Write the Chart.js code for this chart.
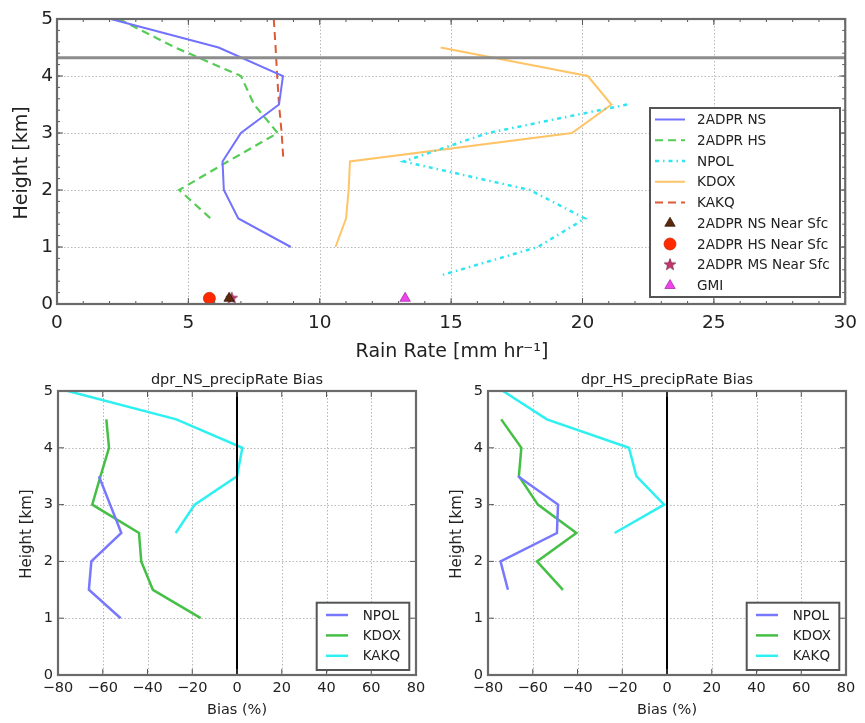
<!DOCTYPE html>
<html>
<head>
<meta charset="utf-8">
<script src="https://cdn.jsdelivr.net/npm/chart.js@4/dist/chart.umd.min.js"></script>
<style>
body { margin: 0; background: #fff; width: 865px; height: 723px; position: relative; overflow: hidden; }
canvas { position: absolute; }
</style>
</head>
<body>
<canvas id="rain" width="865" height="365" style="left:0;top:0"></canvas>
<canvas id="biasNS" width="432" height="363" style="left:0;top:360px"></canvas>
<canvas id="biasHS" width="433" height="363" style="left:432px;top:360px"></canvas>
<script>
// mean rain rate profiles (mm/hr) against height (km)
const nsHeights = [5, 4.5, 4, 3.5, 3, 2.5, 2, 1.5, 1];
const nsRate = [2.05, 6.15, 8.6, 8.45, 7.0, 6.3, 6.35, 6.9, 8.9];
const hsHeights = [5, 4.5, 4, 3.5, 3, 2.5, 2, 1.5];
const hsRate = [2.35, 4.5, 7.0, 7.5, 8.4, 6.5, 4.65, 5.85];
const npolHeights = [3.5, 3, 2.5, 2, 1.5, 1, 0.5];
const npolRate = [21.7, 16.4, 13.2, 18.0, 20.1, 18.3, 14.6];
const kdoxHeights = [4.5, 4, 3.5, 3, 2.5, 2, 1.5, 1];
const kdoxRate = [14.6, 20.2, 21.1, 19.6, 11.15, 11.1, 11.0, 10.6];
const kakqHeights = [5, 4.5, 4, 3.5, 3, 2.5];
const kakqRate = [8.25, 8.32, 8.38, 8.45, 8.55, 8.62];
const freezingLevel = 4.32;

// near surface estimates, drawn just above the ground
const sfcHeight = 0.1;
const nsNearSfc = 6.55;
const hsNearSfc = 5.8;
const msNearSfc = 6.65;
const gmiRate = 13.25;

// DPR NS bias (%) against each ground radar
const nsBiasNpolH = [3.5, 3, 2.5, 2, 1.5, 1];
const nsBiasNpol = [-61.7, -56.7, -51.7, -65.1, -66.2, -52.0];
const nsBiasKdoxH = [4.5, 4, 3.5, 3, 2.5, 2, 1.5, 1];
const nsBiasKdox = [-58.4, -57.2, -61, -64.7, -43.8, -42.8, -37.6, -16.2];
const nsBiasKakqH = [5, 4.5, 4, 3.5, 3, 2.5];
const nsBiasKakq = [-75.6, -27.1, 2.4, 0, -18.9, -27.4];

// DPR HS bias (%)
const hsBiasNpolH = [3.5, 3, 2.5, 2, 1.5];
const hsBiasNpol = [-66.6, -48.7, -49.2, -74.4, -71.1];
const hsBiasKdoxH = [4.5, 4, 3.5, 3, 2.5, 2, 1.5];
const hsBiasKdox = [-74.1, -65.1, -66.2, -57.7, -40.5, -58.1, -46.5];
const hsBiasKakqH = [5, 4.5, 4, 3.5, 3, 2.5];
const hsBiasKakq = [-73.3, -53.7, -17.0, -13.7, -1.3, -23.4];

const rateTicks = [0, 5, 10, 15, 20, 25, 30];
const heightTicks = [0, 1, 2, 3, 4, 5];
const biasTicks = [-80, -60, -40, -20, 0, 20, 40, 60, 80];

const FONT = 'DejaVu Sans';
const INK = '#222';

function pts(h, v) { return v.map((x, i) => ({ x: x, y: h[i] })); }

function lineSet(label, h, v, color, dash, width) {
  return { label: label, data: pts(h, v), borderColor: color, backgroundColor: color,
    borderWidth: width, borderDash: dash, pointRadius: 0, showLine: true, tension: 0, fill: false };
}

function markerSet(label, x, style, color, edge, r) {
  return { label: label, data: [{ x: x, y: sfcHeight }], pointStyle: style, pointRadius: r,
    pointBackgroundColor: color, pointBorderColor: edge, pointBorderWidth: 0.7, showLine: false };
}

// small filled five point star
const starImg = (() => {
  const c = document.createElement('canvas');
  c.width = c.height = 14;
  const g = c.getContext('2d');
  g.beginPath();
  for (let i = 0; i < 10; i++) {
    const r = i % 2 ? 2.6 : 6.2, a = -Math.PI / 2 + i * Math.PI / 5;
    g.lineTo(7 + r * Math.cos(a), 7 + r * Math.sin(a));
  }
  g.closePath();
  g.fillStyle = '#c43470';
  g.fill();
  g.strokeStyle = '#6a1838';
  g.lineWidth = 0.6;
  g.stroke();
  return c;
})();

function drawMarker(ctx, ds, x, y) {
  const st = ds.pointStyle, r = ds.pointRadius;
  if (typeof st === 'object') { ctx.drawImage(st, x - st.width / 2, y - st.height / 2); return; }
  ctx.beginPath();
  if (st === 'circle') ctx.arc(x, y, r, 0, Math.PI * 2);
  else {
    ctx.moveTo(x, y - r);
    ctx.lineTo(x + r * 0.866, y + r * 0.5);
    ctx.lineTo(x - r * 0.866, y + r * 0.5);
    ctx.closePath();
  }
  ctx.fillStyle = ds.pointBackgroundColor;
  ctx.fill();
  ctx.strokeStyle = ds.pointBorderColor;
  ctx.lineWidth = 0.7;
  ctx.stroke();
}

// grid, frame, inward ticks, legend box and axis titles
const axesDecor = {
  id: 'axesDecor',
  beforeDatasetsDraw(chart, args, o) {
    const ctx = chart.ctx, a = chart.chartArea, sx = chart.scales.x, sy = chart.scales.y;
    ctx.save();
    ctx.strokeStyle = '#b8b8b8';
    ctx.lineWidth = 1;
    ctx.setLineDash([1.5, 2]);
    sx.ticks.forEach(t => {
      if (t.value <= sx.min || t.value >= sx.max) return;
      const px = Math.round(sx.getPixelForValue(t.value)) + 0.5;
      ctx.beginPath(); ctx.moveTo(px, a.top); ctx.lineTo(px, a.bottom); ctx.stroke();
    });
    sy.ticks.forEach(t => {
      if (t.value <= sy.min || t.value >= sy.max) return;
      const py = Math.round(sy.getPixelForValue(t.value)) + 0.5;
      ctx.beginPath(); ctx.moveTo(a.left, py); ctx.lineTo(a.right, py); ctx.stroke();
    });
    ctx.restore();
  },
  afterDatasetsDraw(chart, args, o) {
    const ctx = chart.ctx, a = chart.chartArea, sx = chart.scales.x, sy = chart.scales.y;
    ctx.save();
    ctx.strokeStyle = '#555';
    ctx.lineWidth = 1;
    const tickX = (v, len) => {
      const px = sx.getPixelForValue(v);
      ctx.beginPath();
      ctx.moveTo(px, a.bottom); ctx.lineTo(px, a.bottom - len);
      ctx.moveTo(px, a.top); ctx.lineTo(px, a.top + len);
      ctx.stroke();
    };
    const tickY = (v, len) => {
      const py = sy.getPixelForValue(v);
      ctx.beginPath();
      ctx.moveTo(a.left, py); ctx.lineTo(a.left + len, py);
      ctx.moveTo(a.right, py); ctx.lineTo(a.right - len, py);
      ctx.stroke();
    };
    if (o.xMinor) for (let v = sx.min; v <= sx.max + 1e-9; v += o.xMinor) tickX(v, 3);
    if (o.yMinor) for (let v = sy.min; v <= sy.max + 1e-9; v += o.yMinor) tickY(v, 3);
    sx.ticks.forEach(t => tickX(t.value, 6));
    sy.ticks.forEach(t => tickY(t.value, 6));

    // axes frame
    ctx.strokeStyle = '#6a6a6a';
    ctx.lineWidth = 2.2;
    ctx.strokeRect(a.left, a.top, a.right - a.left, a.bottom - a.top);

    // legend
    const L = o.legend;
    ctx.fillStyle = '#fff';
    ctx.fillRect(L.x, L.y, L.w, L.h);
    ctx.strokeStyle = '#555';
    ctx.lineWidth = 2;
    ctx.strokeRect(L.x, L.y, L.w, L.h);
    ctx.font = L.font + 'px "' + FONT + '"';
    ctx.textBaseline = 'middle';
    ctx.textAlign = 'left';
    L.items.forEach((idx, i) => {
      const ds = chart.data.datasets[idx];
      const y = L.row0 + i * L.step;
      if (ds.showLine) {
        ctx.strokeStyle = ds.borderColor;
        ctx.lineWidth = ds.borderWidth;
        ctx.setLineDash(ds.borderDash);
        ctx.beginPath(); ctx.moveTo(L.s0, y); ctx.lineTo(L.s1, y); ctx.stroke();
        ctx.setLineDash([]);
      } else {
        drawMarker(ctx, ds, (L.s0 + L.s1) / 2, y);
      }
      ctx.fillStyle = INK;
      ctx.fillText(ds.label, L.tx, y + 1);
    });

    // titles
    ctx.fillStyle = INK;
    ctx.textAlign = 'center';
    o.titles.forEach(t => {
      ctx.save();
      ctx.font = t.size + 'px "' + FONT + '"';
      ctx.translate(t.x, t.y);
      if (t.rot) ctx.rotate(-Math.PI / 2);
      ctx.fillText(t.text, 0, 0);
      ctx.restore();
    });
    ctx.restore();
  }
};

function axis(min, max, ticks, size, pad, fit, isX) {
  return {
    type: 'linear', min: min, max: max,
    grid: { display: false, drawTicks: false },
    border: { display: false },
    afterBuildTicks: s => { s.ticks = ticks.map(v => ({ value: v })); },
    ticks: {
      autoSkip: false, maxRotation: 0, padding: pad, color: INK,
      font: { family: FONT, size: size },
      callback: v => v < 0 ? '\u2212' + Math.abs(v) : String(v)
    },
    afterFit: s => { if (isX) s.height = fit; else s.width = fit; }
  };
}

function makeChart(id, datasets, scales, padding, decor) {
  return new Chart(document.getElementById(id), {
    type: 'scatter',
    data: { datasets: datasets },
    options: {
      responsive: false,
      animation: false,
      events: [],
      layout: { padding: padding },
      scales: scales,
      plugins: { legend: { display: false }, tooltip: { enabled: false }, axesDecor: decor }
    },
    plugins: [axesDecor]
  });
}

// top panel: rain rate profiles
makeChart('rain', [
  lineSet('', [freezingLevel, freezingLevel], [0, 30], '#8c8c8c', [], 3),
  lineSet('2ADPR NS', nsHeights, nsRate, '#7272ff', [], 2),
  lineSet('2ADPR HS', hsHeights, hsRate, '#55cc55', [8, 5], 2.2),
  lineSet('NPOL', npolHeights, npolRate, '#2fe6f0', [4, 4, 1.5, 4], 2.5),
  lineSet('KDOX', kdoxHeights, kdoxRate, '#ffc467', [], 2),
  lineSet('KAKQ', kakqHeights, kakqRate, '#dd5a36', [8, 5], 2),
  markerSet('2ADPR NS Near Sfc', nsNearSfc, 'triangle', '#5c2a0a', '#2a1000', 6),
  markerSet('2ADPR HS Near Sfc', hsNearSfc, 'circle', '#ff2a00', '#cc2000', 6),
  markerSet('2ADPR MS Near Sfc', msNearSfc, starImg, '#c43470', '#6a1838', 6),
  markerSet('GMI', gmiRate, 'triangle', '#ee44ee', '#a020a0', 6)
], {
  x: axis(0, 30, rateTicks, 18.5, 8, 61, true),
  y: axis(0, 5, heightTicks, 18.5, 4, 57, false)
}, { left: 0, right: 18, top: 19, bottom: 0 }, {
  xMinor: 1, yMinor: 0.2,
  legend: { x: 650, y: 108, w: 190, h: 189, row0: 119.5, step: 20.75, s0: 655, s1: 685, tx: 697, font: 13.6, items: [1, 2, 3, 4, 5, 6, 7, 8, 9] },
  titles: [
    { text: 'Height [km]', x: 22, y: 163, size: 19, rot: true },
    { text: 'Rain Rate [mm hr\u207B\u00B9]', x: 452, y: 352, size: 19 }
  ]
});

// bottom panels: DPR bias against ground radars
function biasChart(id, title, npolH, npol, kdoxH, kdox, kakqH, kakq, right, shift) {
  makeChart(id, [
    lineSet('', [0, 5], [0, 0], '#000', [], 2),
    lineSet('NPOL', npolH, npol, '#7878ff', [], 2.5),
    lineSet('KDOX', kdoxH, kdox, '#45bf45', [], 2.5),
    lineSet('KAKQ', kakqH, kakq, '#2ef0f0', [], 2.5)
  ], {
    x: axis(-80, 80, biasTicks, 14.5, 5, 48, true),
    y: axis(0, 5, heightTicks, 14.5, 5, 58 - shift, false)
  }, { left: 0, right: right, top: 31, bottom: 0 }, {
    legend: { x: 316.7 - shift, y: 242.7, w: 92.6, h: 67.3, row0: 255, step: 20.4, s0: 326 - shift, s1: 348 - shift, tx: 362.7 - shift, font: 13.5, items: [1, 2, 3] },
    titles: [
      { text: title, x: 237 - shift, y: 20, size: 14.5 },
      { text: 'Height [km]', x: 27 - shift, y: 174, size: 15, rot: true },
      { text: 'Bias (%)', x: 237 - shift, y: 350, size: 14.5 }
    ]
  });
}

biasChart('biasNS', 'dpr_NS_precipRate Bias', nsBiasNpolH, nsBiasNpol, nsBiasKdoxH, nsBiasKdox, nsBiasKakqH, nsBiasKakq, 16, 0);
biasChart('biasHS', 'dpr_HS_precipRate Bias', hsBiasNpolH, hsBiasNpol, hsBiasKdoxH, hsBiasKdox, hsBiasKakqH, hsBiasKakq, 19, 2);
</script>
</body>
</html>
